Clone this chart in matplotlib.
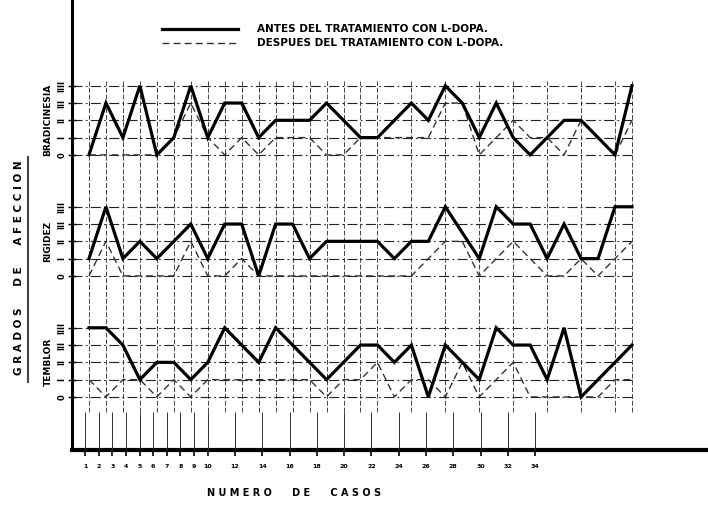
import matplotlib
matplotlib.use("Agg")
import matplotlib.pyplot as plt
from matplotlib.lines import Line2D
from matplotlib.transforms import blended_transform_factory
import numpy as np

# numero de caso (1..33)
casos = np.arange(1, 34)

# grado de afeccion por caso: 0, I, II, III, IIII
brad_antes = [0, 3, 1, 4, 0, 1, 4, 1, 3, 3, 1, 2, 2, 2, 3, 2, 1, 1, 2, 3, 2,
              4, 3, 1, 3, 1, 0, 1, 2, 2, 1, 0, 4]
brad_despues = [0, 0, 0, 0, 0, 1, 3, 1, 0, 1, 0, 1, 1, 1, 0, 0, 1, 1, 1, 1, 1,
                3, 3, 0, 1, 2, 1, 1, 0, 2, 1, 0, 2]
rig_antes = [1, 4, 1, 2, 1, 2, 3, 1, 3, 3, 0, 3, 3, 1, 2, 2, 2, 2, 1, 2, 2,
             4, 2.5, 1, 4, 3, 3, 1, 3, 1, 1, 4, 4]
rig_despues = [0, 2, 0, 0, 0, 0, 2, 0, 0, 1, 0, 0, 0, 0, 0, 0, 0, 0, 0, 0, 1,
               2, 2, 0, 1, 2, 1, 0, 0, 1, 0, 1, 2]
tem_antes = [4, 4, 3, 1, 2, 2, 1, 2, 4, 3, 2, 4, 3, 2, 1, 2, 3, 3, 2, 3, 0,
             3, 2, 1, 4, 3, 3, 1, 4, 0, 1, 2, 3]
tem_despues = [1, 0, 1, 1, 0, 1, 0, 1, 1, 1, 1, 1, 1, 1, 0, 1, 1, 2, 0, 1, 1,
               0, 2, 0, 1, 2, 0, 0, 0, 0, 0, 1, 1]

paneles = ["BRADICINESIA", "RIGIDEZ", "TEMBLOR"]
niveles = ["0", "I", "II", "III", "IIII"]
escala_casos = list(range(1, 11)) + list(range(12, 35, 2))
casos_grid = list(range(1, 19)) + list(range(20, 33, 2)) + [33]

W, H = 708, 509
fig = plt.figure(figsize=(W / 100, H / 100), dpi=100)
fig.patch.set_facecolor("white")

ax = fig.add_axes([72 / W, 1 - 450 / H, 636 / W, 450 / H])
ax.set_xlim(0, 37.48)
ax.set_ylim(-3.07, 22.96)
ax.patch.set_alpha(0)
for s in ["top", "right"]:
    ax.spines[s].set_visible(False)
ax.spines["left"].set_linewidth(2.2)
ax.spines["bottom"].set_linewidth(3)
ax.set_xticks([])

offsets = [14, 7, 0]
series = [(brad_antes, brad_despues), (rig_antes, rig_despues), (tem_antes, tem_despues)]
tr_lab = blended_transform_factory(fig.transFigure, ax.transData)

# vertical grid
ax.vlines(casos_grid, -0.87, 18.3, colors="#444444", lw=0.7,
          linestyles=(0, (5, 2)), zorder=1)

yt, ytl = [], []
for nombre, off, (antes, despues) in zip(paneles, offsets, series):
    ax.hlines(np.arange(5) + off, 0, 33.05, colors="#222222", lw=0.8,
              linestyles=(0, (9, 3, 1.5, 3)), zorder=1)
    ax.plot(casos, np.array(despues) + off, color="#333333", lw=1.0,
            linestyle=(0, (5, 3)), zorder=2)
    ax.plot(casos, np.array(antes) + off, color="black", lw=2.3, zorder=3,
            solid_joinstyle="miter")
    yt += list(np.arange(5) + off)
    ytl += niveles
    ax.text(48 / W, off + 2, nombre, transform=tr_lab, rotation=90,
            ha="center", va="center", fontsize=6.5, fontweight="bold")

ax.set_yticks(yt)
ax.set_yticklabels(ytl, rotation=90, va="center", fontsize=6, fontweight="bold")
ax.tick_params(axis="y", direction="inout", length=6, width=1, pad=1)

# escala de casos (abajo)
ax2 = fig.add_axes([72 / W, 1 - 450 / H, 636 / W, 450 / H], frameon=False)
ax2.set_xlim(0.047, 46.67)
ax2.set_ylim(0, 1)
ax2.patch.set_alpha(0)
ax2.set_yticks([])
ax2.set_xticks(escala_casos)
ax2.set_xticklabels([str(v) for v in escala_casos], fontsize=4.5, fontweight="bold")
ax2.tick_params(axis="x", direction="out", length=4, width=1.2, pad=6)
ax2.vlines(escala_casos, 0, 0.084, colors="#333333", lw=0.7)

fig.text(294 / W, 1 - 493 / H, "N U M E R O      D E      C A S O S",
         ha="center", va="center", fontsize=7, fontweight="bold")

fig.text(19 / W, 1 - 268 / H, "G R A D O S      D E      A F E C C I O N",
         rotation=90, ha="center", va="center", fontsize=7.5, fontweight="bold")
fig.add_artist(Line2D([28 / W, 28 / W], [1 - 157 / H, 1 - 382 / H],
                      color="#444444", lw=1.5, transform=fig.transFigure))

# leyenda
fig.add_artist(Line2D([162 / W, 238 / W], [1 - 29 / H] * 2, color="black",
                      lw=2.3, transform=fig.transFigure))
fig.add_artist(Line2D([162 / W, 238 / W], [1 - 43 / H] * 2, color="#333333",
                      lw=1.0, linestyle=(0, (5, 3)), transform=fig.transFigure))
fig.text(257 / W, 1 - 29 / H, "ANTES DEL TRATAMIENTO CON L-DOPA.",
         ha="left", va="center", fontsize=7.5, fontweight="bold")
fig.text(257 / W, 1 - 43 / H, "DESPUES DEL TRATAMIENTO CON L-DOPA.",
         ha="left", va="center", fontsize=7.5, fontweight="bold")

fig.savefig("out.png", dpi=100)
